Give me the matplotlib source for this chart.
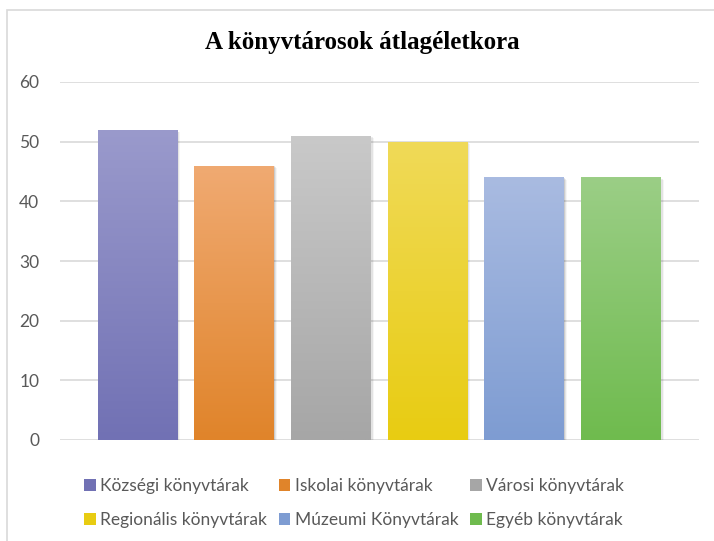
import matplotlib.pyplot as plt
import matplotlib.patches as mpatches
from matplotlib.colors import LinearSegmentedColormap
import numpy as np

# data
categories = ['Községi könyvtárak', 'Iskolai könyvtárak', 'Városi könyvtárak',
              'Regionális könyvtárak', 'Múzeumi Könyvtárak', 'Egyéb könyvtárak']
ages = [52, 46, 51, 50, 44, 44]
yticks = [0, 10, 20, 30, 40, 50, 60]

# (top colour, bottom colour) for the vertical gradient of each bar
top_colors = ['#9A9ACC', '#F0AA72', '#C9C9C9', '#F0DA58', '#A9BBE1', '#9BCE86']
bottom_colors = ['#7171B4', '#E0842A', '#A6A6A6', '#E8CC12', '#7E9CD2', '#6FBB4E']

title = 'A könyvtárosok átlagéletkora'
text_gray = '#595959'

fig = plt.figure(figsize=(7.14, 5.41), dpi=100)
ax = fig.add_axes([60 / 714, 101 / 541, 639 / 714, 358 / 541])

# light chart frame
frame = mpatches.Rectangle((7 / 714, -0.05), 1.0, 1 - 10 / 541 + 0.05,
                           transform=fig.transFigure, fill=False,
                           edgecolor='#D9D9D9', linewidth=1.2, zorder=0)
fig.patches.append(frame)

x = np.arange(len(categories))
width = 0.82
grad = np.linspace(0, 1, 256).reshape(-1, 1)

handles = []
for i, (xi, h) in enumerate(zip(x, ages)):
    # soft shadow
    for k, a in enumerate([0.10, 0.07, 0.04]):
        off = 0.012 * (k + 1)
        sh = mpatches.Rectangle((xi - width / 2 + off, -0.15 * (k + 1)), width, h,
                                facecolor='black', edgecolor='none', alpha=a, zorder=2)
        ax.add_patch(sh)
    bar = ax.bar(xi, h, width=width, color=bottom_colors[i], zorder=3,
                 linewidth=0)[0]
    cmap = LinearSegmentedColormap.from_list('g%d' % i, [bottom_colors[i], top_colors[i]])
    im = ax.imshow(grad, cmap=cmap, aspect='auto', origin='lower',
                   extent=(xi - width / 2, xi + width / 2, 0, h), zorder=4)
    im.set_clip_path(bar)
    handles.append(mpatches.Patch(facecolor=bottom_colors[i], edgecolor='none',
                                  label=categories[i]))

ax.set_xlim(-0.80, 5.81)
ax.set_ylim(0, 60)
ax.set_yticks(yticks)
ax.set_xticks([])
ax.yaxis.grid(True, color='#D9D9D9', linewidth=1.2, zorder=1)
ax.set_axisbelow(True)
for s in ax.spines.values():
    s.set_visible(False)
ax.tick_params(axis='y', length=0, pad=15, labelsize=12.5, labelcolor=text_gray)
for lab in ax.get_yticklabels():
    lab.set_family('Lato')

fig.text(0.508, 1 - 43 / 541, title, ha='center', va='center',
         fontsize=18, fontweight='bold', family='Liberation Serif')

# legend filled row-wise: reorder for column-major fill
order = [0, 3, 1, 4, 2, 5]
leg = fig.legend([handles[j] for j in order], [categories[j] for j in order],
                 ncol=3, loc='center', bbox_to_anchor=(0.496, 1 - 503 / 541),
                 frameon=False, prop={'family': 'Lato', 'size': 12.5},
                 handlelength=0.65, handleheight=0.65, handletextpad=0.25,
                 columnspacing=0.7, labelspacing=1.05, labelcolor=text_gray)

fig.savefig('out.png', dpi=100)
